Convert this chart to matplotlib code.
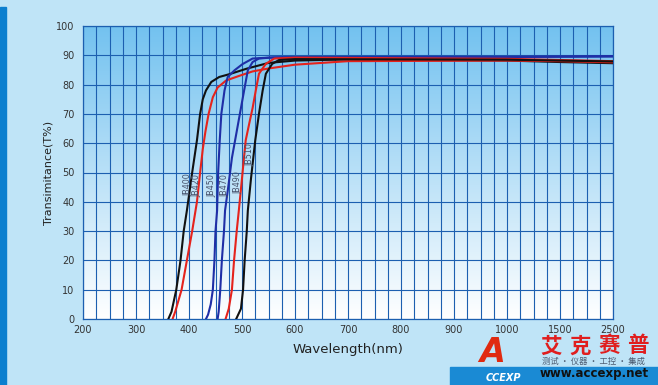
import matplotlib.pyplot as plt
import numpy as np
from matplotlib.patches import Rectangle

# wavelength axis is piecewise: 200..1000 linear, then 1500, 2500
brk_nm = [200, 1000, 1500, 2500]
brk_pos = [0, 8, 9, 10]

major_ticks = [200, 300, 400, 500, 600, 700, 800, 900, 1000, 1500, 2500]
y_ticks = [0, 10, 20, 30, 40, 50, 60, 70, 80, 90, 100]

names = ['JB400', 'JB420', 'JB450', 'JB470', 'JB490', 'JB510']
colors = ['#111111', '#e5231c', '#1f2ea6', '#1f2ea6', '#e5231c', '#111111']

w400 = [361, 367, 376, 384, 390, 396, 406, 415, 421, 426, 432, 442, 457, 475, 489, 510, 550, 600, 700, 800, 1000, 1500, 2500]
t400 = [0, 2.5, 10, 20, 30, 37, 50, 61, 70, 75, 78, 80.9, 82.6, 83.5, 84.3, 85.5, 87.4, 88.2, 88.6, 88.4, 88.2, 87.7, 87.3]

w420 = [369, 374, 386, 396, 406, 415, 421, 426, 431, 437, 445, 454, 470, 495, 520, 550, 600, 700, 1000, 1500, 2500]
t420 = [0, 2.5, 10, 20, 30, 40, 50, 58, 64, 70, 75.7, 79, 81.4, 83, 84.5, 85.5, 86.8, 88, 88.2, 88, 87.6]

w450 = [432, 436, 441, 445, 448, 450, 453, 455, 458, 461, 467, 473, 486, 501, 520, 550, 600, 1000, 2500]
t450 = [0, 1.5, 5, 10, 20, 30, 37, 50, 61, 70, 78, 82.6, 84.9, 87, 88.9, 89.2, 89.3, 89.4, 89.6]

w470 = [454, 456, 459, 462, 466, 468, 474, 481, 487, 492, 496, 504, 511, 520, 532, 560, 600, 1000, 2500]
t470 = [0, 2.5, 10, 20, 30, 37, 45, 55, 61, 66, 70, 78, 84.9, 87.7, 88.9, 89.3, 89.4, 89.5, 89.7]

w490 = [469, 475, 481, 485, 490, 494, 500, 507, 514, 520, 526, 532, 545, 561, 600, 1000, 1500, 2500]
t490 = [0, 3.5, 10, 20, 30, 37, 48, 61, 67, 72, 78, 83.7, 87.1, 88.9, 89.2, 88.8, 88.4, 88.0]

w510 = [489, 498, 502, 505, 509, 511, 517, 525, 532, 539, 545, 557, 570, 600, 1000, 1500, 2500]
t510 = [0, 3.5, 10, 20, 30, 37, 48, 61, 70, 78, 83.7, 87.1, 88.4, 88.7, 88.5, 88.2, 87.9]

waves = [w400, w420, w450, w470, w490, w510]
trans = [t400, t420, t450, t470, t490, t510]

# curve label anchors (wavelength, T%)
lab_w = [398, 415, 443, 468, 492, 515]
lab_t = [45.7, 45.7, 45.7, 45.7, 46.4, 56]

brand = ['艾', '克', '赛', '普']


def fwd(w):
    return np.interp(w, brk_nm, brk_pos)


def inv(p):
    return np.interp(p, brk_pos, brk_nm)


fig = plt.figure(figsize=(6.58, 3.85), dpi=100, facecolor='#bfe4f7')
ax = fig.add_axes([83 / 658, 66 / 385, 530 / 658, 293 / 385])

# decorations around the chart
fig.patches.append(Rectangle((0, 0), 6 / 658, 1 - 7 / 385, transform=fig.transFigure,
                             color='#0b7fcf', zorder=0))
fig.patches.append(Rectangle((450 / 658, 0), 1, 18 / 385, transform=fig.transFigure,
                             color='#1a8ad4', zorder=0))

ax.set_xscale('function', functions=(fwd, inv))
ax.set_xlim(200, 2500)
ax.set_ylim(0, 100)

# gradient background
grad = np.linspace(0, 1, 256)[:, None]
top = np.array([0.45, 0.76, 0.94])
bot = np.array([1.0, 1.0, 1.0])
img = top[None, None, :] * (1 - grad[:, :, None]) + bot[None, None, :] * grad[:, :, None]
ax.imshow(img, extent=[0, 1, 0, 1], transform=ax.transAxes, aspect='auto', zorder=0)

# grid every quarter of a major step
minor = list(inv(np.arange(0, 10, 0.25)))

ax.set_xticks(major_ticks)
ax.set_xticklabels([str(t) for t in major_ticks])
ax.set_xticks(minor, minor=True)
ax.set_yticks(y_ticks)
ax.tick_params(axis='both', which='both', length=0, labelsize=7, colors='#333333')
ax.tick_params(axis='x', pad=4)
ax.tick_params(axis='y', pad=6)
ax.grid(True, which='both', color='#1c5fb0', lw=0.8)
for s in ax.spines.values():
    s.set_color('#1c5fb0')
    s.set_linewidth(0.9)

for w, t, c in zip(waves, trans, colors):
    ax.plot(w, t, color=c, lw=1.5, zorder=3, solid_joinstyle='round')

for n, lw_, lt in zip(names, lab_w, lab_t):
    ax.text(lw_, lt, n, rotation=90, fontsize=5.8, color='#45506a',
            ha='center', va='center', zorder=4)

ax.set_xlabel('Wavelength(nm)', fontsize=9.5, color='#222222', labelpad=6)
ax.set_ylabel('Transimitance(T%)', fontsize=8, color='#222222', labelpad=2)

# logo text
for i, ch in enumerate(brand):
    fig.text((551 + i * 29) / 658, 1 - 346 / 385, ch, fontsize=15.5, color='#e01e1e',
             weight='bold', ha='center', va='center',
             family=['Noto Sans CJK SC', 'DejaVu Sans'])
fig.text(594 / 658, 1 - 361 / 385, '测试 · 仪器 · 工控 · 集成', fontsize=6, color='#4a5a70',
         ha='center', va='center', style='italic', family=['Noto Sans CJK SC', 'DejaVu Sans'])
fig.text(594 / 658, 1 - 374 / 385, 'www.accexp.net', fontsize=8.5, color='#111111',
         weight='bold', ha='center', va='center')
fig.text(492 / 658, 1 - 352 / 385, 'A', fontsize=24, color='#e02a10', weight='bold',
         style='italic', ha='center', va='center')
fig.text(503 / 658, 1 - 378 / 385, 'CCEXP', fontsize=7, color='#ffffff', weight='bold',
         style='italic', ha='center', va='center')

fig.savefig('out.png', dpi=100, facecolor=fig.get_facecolor())
